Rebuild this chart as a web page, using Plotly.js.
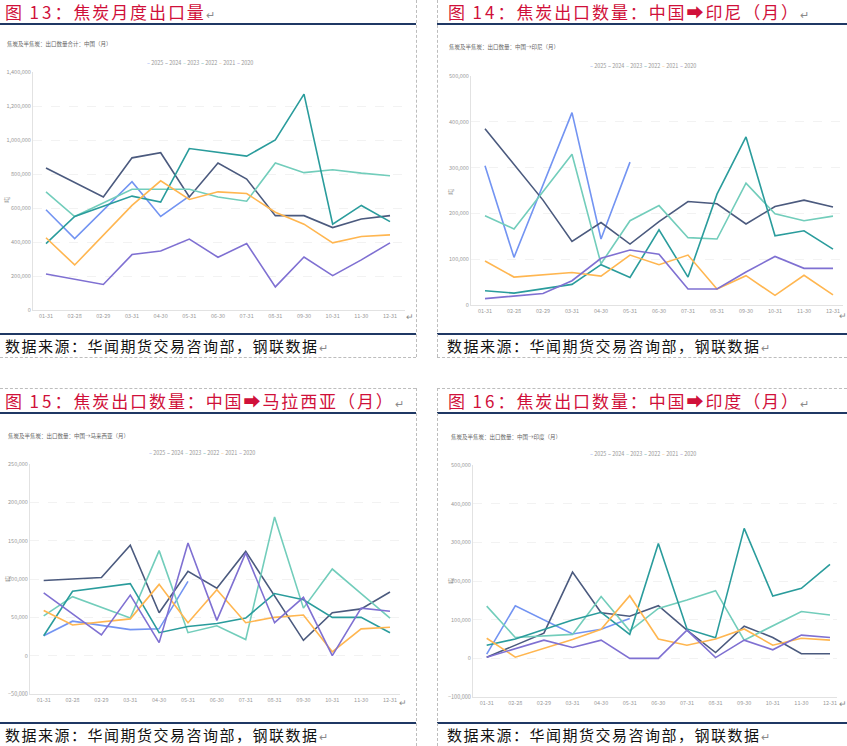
<!DOCTYPE html>
<html><head><meta charset="utf-8">
<script src="https://cdn.plot.ly/plotly-3.0.1.min.js"></script>
<style>
body{margin:0;width:847px;height:746px;position:relative;background:#fff;overflow:hidden;font-family:"Noto Sans CJK SC",sans-serif;}
.t{position:absolute;font-size:17px;color:#D0103A;letter-spacing:1.9px;white-space:nowrap;line-height:18px}
.t .n{letter-spacing:3px}
.s{position:absolute;font-size:15px;color:#111;letter-spacing:1.5px;white-space:nowrap;line-height:18px}
.r{position:absolute;height:2px;background:#1F3864}
.dv{position:absolute;width:0;border-left:1px dashed #bdbdbd}
.dh{position:absolute;height:0;border-top:1px dashed #bdbdbd}
.ret{color:#8a8a8a;font-size:11px;letter-spacing:0}
.rr{position:absolute;color:#8a8a8a;font-size:9px;line-height:9px}
.c{position:absolute}
</style></head>
<body>
<div class="t" style="left:5px;top:3px">图 <span class="n">13</span>：焦炭月度出口量<span class="ret">↵</span></div>
<div class="r" style="left:0;top:23px;width:416px"></div>
<div class="t" style="left:448px;top:3px">图 <span class="n">14</span>：焦炭出口数量：中国➡印尼（月）<span class="ret">↵</span></div>
<div class="r" style="left:437px;top:23px;width:410px"></div>
<div class="t" style="left:5px;top:392px">图 <span class="n">15</span>：焦炭出口数量：中国➡马拉西亚（月）<span class="ret">↵</span></div>
<div class="r" style="left:0;top:412px;width:416px"></div>
<div class="t" style="left:448px;top:392px">图 <span class="n">16</span>：焦炭出口数量：中国➡印度（月）<span class="ret">↵</span></div>
<div class="r" style="left:437px;top:412px;width:410px"></div>

<div class="r" style="left:0;top:333px;width:416px"></div>
<div class="s" style="left:5px;top:337px">数据来源：华闻期货交易咨询部，钢联数据<span class="ret">↵</span></div>
<div class="r" style="left:437px;top:333px;width:410px"></div>
<div class="s" style="left:447px;top:337px">数据来源：华闻期货交易咨询部，钢联数据<span class="ret">↵</span></div>
<div class="r" style="left:0;top:722px;width:416px"></div>
<div class="s" style="left:5px;top:726px">数据来源：华闻期货交易咨询部，钢联数据<span class="ret">↵</span></div>
<div class="r" style="left:437px;top:722px;width:410px"></div>
<div class="s" style="left:447px;top:726px">数据来源：华闻期货交易咨询部，钢联数据<span class="ret">↵</span></div>

<div class="dv" style="left:416px;top:0;height:357px"></div>
<div class="dh" style="left:0;top:357px;width:416px"></div>
<div class="dv" style="left:437px;top:0;height:357px"></div>
<div class="dh" style="left:437px;top:357px;width:410px"></div>
<div class="dh" style="left:0;top:388px;width:416px"></div>
<div class="dv" style="left:416px;top:388px;height:358px"></div>
<div class="dh" style="left:437px;top:388px;width:410px"></div>
<div class="dv" style="left:437px;top:388px;height:358px"></div>

<div class="rr" style="left:406px;top:312px">↵</div>
<div class="rr" style="left:839px;top:311px">↵</div>
<div class="rr" style="left:399px;top:698px">↵</div>
<div class="rr" style="left:839px;top:699px">↵</div>

<div id="c13" class="c"></div>
<div id="c14" class="c"></div>
<div id="c15" class="c"></div>
<div id="c16" class="c"></div>

<script>
// ---- data ----
const CATS = ['01-31','02-28','02-29','03-31','04-30','05-31','06-30','07-31','08-31','09-30','10-31','11-30','12-31'];
const YEARS = ['2025','2024','2023','2022','2021','2020'];
const COLORS = ['#7394F2','#4B5A7E','#72CDBB','#2A9C9C','#FFB650','#7F70D2'];

// 图13 焦炭月度出口量 (吨)
const c13_2025 = [590000, 420000, null, 755000, 550000, 670000, null, null, null, null, null, null, null];
const c13_2024 = [835000, null, 665000, 895000, 925000, 665000, 865000, 770000, 555000, 555000, 485000, 535000, 555000];
const c13_2023 = [695000, 550000, null, 710000, 712000, 710000, 665000, 640000, 865000, 808000, 825000, 805000, 790000];
const c13_2022 = [390000, 550000, null, 670000, 635000, 950000, 928000, 905000, 1000000, 1270000, 505000, 615000, 520000];
const c13_2021 = [425000, 265000, null, 615000, 760000, 650000, 695000, 685000, 575000, 505000, 395000, 432000, 442000];
const c13_2020 = [212000, null, 150000, 326000, 347000, 417000, 310000, 391000, 136000, 312000, 202000, 295000, 395000];

// 图14 中国→印尼
const c14_2025 = [304000, 104000, null, 420000, 144000, 312000, null, null, null, null, null, null, null];
const c14_2024 = [385000, null, 229000, 139000, 180000, 133000, 182000, 226000, 221000, 177000, 215000, 229000, 214000];
const c14_2023 = [195000, 166000, null, 329000, 90000, 184000, 217000, 147000, 144000, 266000, 199000, 184000, 194000];
const c14_2022 = [31000, 26000, null, 45000, 88000, 60000, 164000, 61000, 242000, 367000, 151000, 162000, 122000];
const c14_2021 = [96000, 61000, null, 71000, 63000, 109000, 88000, 109000, 35000, 64000, 21000, 65000, 22000];
const c14_2020 = [14000, null, 25000, 53000, 102000, 120000, 111000, 35000, 35000, 72000, 106000, 80000, 80000];

// 图15 中国→马来西亚
const c15_2025 = [26000, 45000, null, 34000, 35000, 97000, null, null, null, null, null, null, null];
const c15_2024 = [98000, null, 102000, 144000, 56000, 110000, 88000, 136000, 78000, 20000, 56000, 61000, 83000];
const c15_2023 = [52000, 77000, null, 49000, 137000, 30000, 39000, 21000, 181000, 62000, 113000, 81000, 49000];
const c15_2022 = [26000, 84000, null, 94000, 30000, 38000, 42000, 49000, 81000, 73000, 50000, 50000, 30000];
const c15_2021 = [59000, 40000, null, 48000, 93000, 43000, 86000, 43000, 50000, 53000, 5000, 35000, 37000];
const c15_2020 = [82000, null, 27000, 79000, 17000, 147000, 46000, 134000, 43000, 76000, 0, 62000, 58000];

// 图16 中国→印度
const c16_2025 = [11000, 136000, null, 63000, 75000, 103000, null, null, null, null, null, null, null];
const c16_2024 = [3000, null, 65000, 223000, 118000, 109000, 136000, 73000, 15000, 83000, 54000, 12000, 12000];
const c16_2023 = [135000, 54000, null, 62000, 160000, 71000, 129000, 151000, 175000, 47000, 84000, 121000, 112000];
const c16_2022 = [34000, 50000, null, 99000, 119000, 62000, 297000, 76000, 53000, 336000, 161000, 181000, 243000];
const c16_2021 = [52000, 3000, null, 49000, 75000, 162000, 50000, 34000, 50000, 76000, 34000, 52000, 47000];
const c16_2020 = [3000, null, 47000, 28000, 47000, 0, 0, 73000, 2000, 47000, 22000, 60000, 54000];

const SUB13 = '焦炭及半焦炭：出口数量合计：中国（月）';
const SUB14 = '焦炭及半焦炭：出口数量：中国→印尼（月）';
const SUB15 = '焦炭及半焦炭：出口数量：中国→马来西亚（月）';
const SUB16 = '焦炭及半焦炭：出口数量：中国→印度（月）';
const UNIT = '吨';

function draw(id, cfg, series, yr, dtick, sub) {
  const el = document.getElementById(id);
  el.style.left = cfg.box.x + 'px'; el.style.top = cfg.box.y + 'px';
  el.style.width = cfg.box.w + 'px'; el.style.height = cfg.box.h + 'px';
  const p = cfg.plot;
  const pw = p.r - p.l, ph = p.b - p.t;
  const X = px => (px - p.l) / pw;
  const Y = py => (p.b - py) / ph;
  const sp = (cfg.c12 - cfg.c0) / 12;
  const xr = [-(cfg.c0 - p.l) / sp, 12 + (p.r - cfg.c12) / sp];
  const traces = series.map((s, i) => ({
    x: CATS, y: s, type: 'scatter', mode: 'lines', name: YEARS[i],
    line: {color: COLORS[i], width: 1.6}, connectgaps: true, hoverinfo: 'skip'
  }));
  const ann = [];
  ann.push({xref:'paper', yref:'paper', x:X(cfg.sub.x), y:Y(cfg.sub.y), xanchor:'left', yanchor:'middle',
    text: sub, showarrow:false, font:{size:5.5, color:'#666'}});
  YEARS.forEach((yName, i) => {
    ann.push({xref:'paper', yref:'paper', x:X(cfg.leg.x + i*18), y:Y(cfg.leg.y), xanchor:'left', yanchor:'middle',
      text:'<span style="color:' + COLORS[i] + '">–</span> ' + yName, showarrow:false, font:{size:5.5, color:'#999'}});
  });
  ann.push({xref:'paper', yref:'paper', x:X(cfg.unit.x), y:Y(cfg.unit.y), xanchor:'center', yanchor:'middle',
    text: UNIT, textangle:-90, showarrow:false, font:{size:6, color:'#888'}});
  const layout = {
    width: cfg.box.w, height: cfg.box.h,
    margin: {l: p.l - cfg.box.x, r: cfg.box.x + cfg.box.w - p.r, t: p.t - cfg.box.y, b: cfg.box.y + cfg.box.h - p.b, pad: 0},
    showlegend: false,
    paper_bgcolor: 'rgba(0,0,0,0)', plot_bgcolor: 'rgba(0,0,0,0)',
    font: {family: 'Noto Sans CJK SC, sans-serif', size: 6, color: '#999'},
    xaxis: {type:'category', categoryorder:'array', categoryarray:CATS, range:xr, showgrid:false,
      showline:true, linecolor:'#e2e2e2', linewidth:1, ticks:'', tickangle:0, tickfont:{size:5.5, color:'#999'}, fixedrange:true},
    yaxis: {range: yr, dtick: dtick, tick0: 0, tickformat: ',d', showgrid: true, gridcolor: '#ececec', griddash: 'dash',
      gridwidth: 0.7, zeroline: false, showline: true, linecolor: '#e2e2e2', ticks: '', tickfont: {size:5.5, color:'#999'}, fixedrange:true},
    annotations: ann
  };
  Plotly.newPlot(el, traces, layout, {staticPlot: true, displayModeBar: false});
}

draw('c13', {box:{x:0,y:28,w:416,h:300}, plot:{l:33,r:405,t:72,b:310}, c0:46, c12:390,
  sub:{x:5,y:44}, leg:{x:145,y:63}, unit:{x:6,y:200}},
  [c13_2025,c13_2024,c13_2023,c13_2022,c13_2021,c13_2020], [0,1400000], 200000, SUB13);
draw('c14', {box:{x:437,y:28,w:410,h:300}, plot:{l:471,r:843,t:76,b:305}, c0:485, c12:833,
  sub:{x:447,y:47}, leg:{x:588,y:66}, unit:{x:450,y:192}},
  [c14_2025,c14_2024,c14_2023,c14_2022,c14_2021,c14_2020], [0,500000], 100000, SUB14);
draw('c15', {box:{x:0,y:410,w:416,h:300}, plot:{l:30,r:400,t:464,b:694}, c0:43.7, c12:390,
  sub:{x:6,y:436}, leg:{x:147,y:453}, unit:{x:7,y:579}},
  [c15_2025,c15_2024,c15_2023,c15_2022,c15_2021,c15_2020], [-50000,250000], 50000, SUB15);
draw('c16', {box:{x:437,y:410,w:410,h:300}, plot:{l:473,r:837,t:465,b:697}, c0:486.7, c12:830,
  sub:{x:449,y:437}, leg:{x:588,y:454}, unit:{x:450,y:581}},
  [c16_2025,c16_2024,c16_2023,c16_2022,c16_2021,c16_2020], [-100000,500000], 100000, SUB16);
</script>
</body></html>
